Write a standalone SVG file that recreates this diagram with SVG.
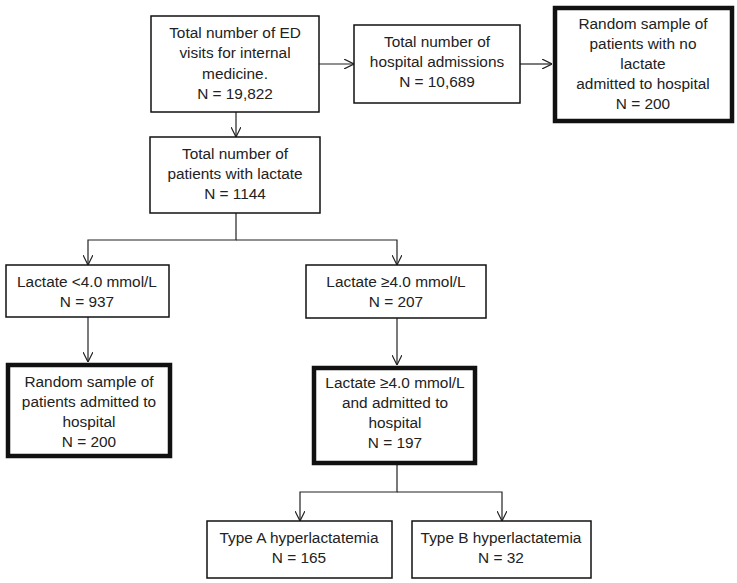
<svg xmlns="http://www.w3.org/2000/svg" width="737" height="583" viewBox="0 0 737 583">
<defs>
<style>
.box{fill:#fff;stroke:#111;stroke-width:1.5}
.thick{fill:#fff;stroke:#111;stroke-width:4.5}
.t{font-family:"Liberation Sans",Arial,sans-serif;font-size:15.4px;fill:#222;text-anchor:middle}
.c{fill:none;stroke:#222;stroke-width:1.2}
</style>
<marker id="ah" viewBox="0 0 10 10" refX="10" refY="5" markerWidth="10" markerHeight="10" markerUnits="userSpaceOnUse" orient="auto">
<path d="M0,0 L10,5 L0,10" fill="none" stroke="#222" stroke-width="1.2"/>
</marker>
</defs>
<rect width="737" height="583" fill="#fff"/>
<g id="connectors">
<line class="c" x1="319" y1="64" x2="354" y2="64" marker-end="url(#ah)"/>
<line class="c" x1="520" y1="64" x2="552" y2="64" marker-end="url(#ah)"/>
<line class="c" x1="236" y1="112" x2="236" y2="137" marker-end="url(#ah)"/>
<polyline class="c" points="236,213 236,240 88,240 88,265" marker-end="url(#ah)"/>
<polyline class="c" points="236,240 397,240 397,265" marker-end="url(#ah)"/>
<line class="c" x1="88" y1="317" x2="88" y2="362" marker-end="url(#ah)"/>
<line class="c" x1="397" y1="318" x2="397" y2="365" marker-end="url(#ah)"/>
<polyline class="c" points="397,465 397,492 300,492 300,521" marker-end="url(#ah)"/>
<polyline class="c" points="397,492 502,492 502,521" marker-end="url(#ah)"/>
</g>
<g id="ed-visits">
<rect class="box" x="151" y="16" width="168" height="96"/>
<text class="t" x="235" y="38">Total number of ED</text>
<text class="t" x="235" y="58">visits for internal</text>
<text class="t" x="235" y="79">medicine.</text>
<text class="t" x="235" y="99">N = 19,822</text>
</g>
<g id="admissions">
<rect class="box" x="354" y="25" width="166" height="78"/>
<text class="t" x="437" y="47">Total number of</text>
<text class="t" x="437" y="67">hospital admissions</text>
<text class="t" x="437" y="87">N = 10,689</text>
</g>
<g id="no-lactate">
<rect class="thick" x="555" y="8" width="177" height="113"/>
<text class="t" x="643" y="29">Random sample of</text>
<text class="t" x="643" y="49">patients with no</text>
<text class="t" x="643" y="69">lactate</text>
<text class="t" x="643" y="89">admitted to hospital</text>
<text class="t" x="643" y="109">N = 200</text>
</g>
<g id="with-lactate">
<rect class="box" x="150" y="137" width="170" height="76"/>
<text class="t" x="235" y="159">Total number of</text>
<text class="t" x="235" y="179">patients with lactate</text>
<text class="t" x="235" y="199">N = 1144</text>
</g>
<g id="low-lactate">
<rect class="box" x="6" y="265" width="163" height="52"/>
<text class="t" x="87" y="287">Lactate &lt;4.0 mmol/L</text>
<text class="t" x="87" y="307">N = 937</text>
</g>
<g id="high-lactate">
<rect class="box" x="306" y="265" width="180" height="53"/>
<text class="t" x="396" y="287">Lactate ≥4.0 mmol/L</text>
<text class="t" x="396" y="307">N = 207</text>
</g>
<g id="sample-admitted">
<rect class="thick" x="8" y="365" width="162" height="91"/>
<text class="t" x="89" y="387">Random sample of</text>
<text class="t" x="89" y="407">patients admitted to</text>
<text class="t" x="89" y="427">hospital</text>
<text class="t" x="89" y="447">N = 200</text>
</g>
<g id="high-admitted">
<rect class="thick" x="314" y="368" width="161" height="95"/>
<text class="t" x="395" y="388">Lactate ≥4.0 mmol/L</text>
<text class="t" x="395" y="408">and admitted to</text>
<text class="t" x="395" y="428">hospital</text>
<text class="t" x="395" y="448">N = 197</text>
</g>
<g id="type-a">
<rect class="box" x="207" y="521" width="185" height="57"/>
<text class="t" x="299" y="543">Type A hyperlactatemia</text>
<text class="t" x="299" y="563">N = 165</text>
</g>
<g id="type-b">
<rect class="box" x="412" y="521" width="179" height="57"/>
<text class="t" x="501" y="543">Type B hyperlactatemia</text>
<text class="t" x="501" y="563">N = 32</text>
</g>
</svg>
